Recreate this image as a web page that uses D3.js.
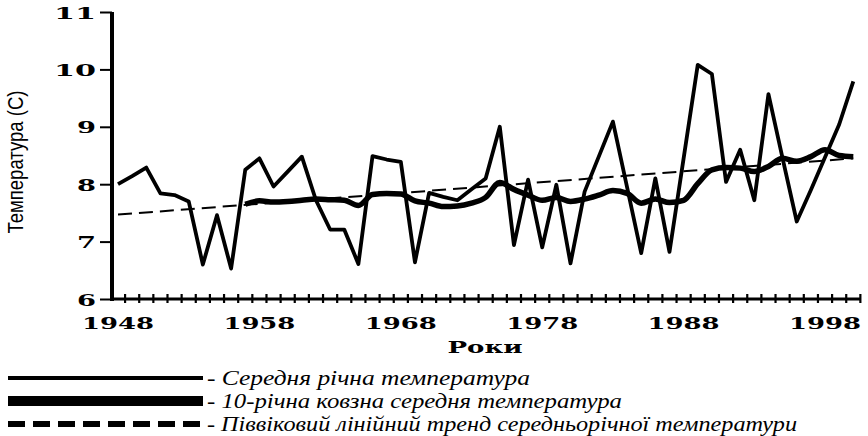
<!DOCTYPE html>
<html>
<head>
<meta charset="utf-8">
<script src="https://cdn.jsdelivr.net/npm/d3@7"></script>
<style>
  body { margin: 0; background: #fff; }
</style>
</head>
<body>
<div class="drawBoard"></div>
<script>
// data
const years = d3.range(1948, 2001);
const annualTemp = [8.00, 8.14, 8.29, 7.84, 7.81, 7.70, 6.60, 7.46, 6.53, 8.25,
                    8.45, 7.96, 8.22, 8.48, 7.72, 7.21, 7.21, 6.61, 8.49, 8.43,
                    8.39, 6.64, 7.85, 7.78, 7.72, 7.91, 8.10, 9.00, 6.94, 8.08,
                    6.90, 7.99, 6.62, 7.87, 8.48, 9.09, 7.95, 6.80, 8.10, 6.82,
                    8.45, 10.08, 9.92, 8.04, 8.60, 7.72, 9.57, 8.45, 7.35, 7.90,
                    8.47, 9.04, 9.79];
const maYears = d3.range(1957, 2001);
const movingAvg = [7.65, 7.71, 7.69, 7.70, 7.72, 7.74, 7.73, 7.72, 7.63, 7.82,
                   7.84, 7.83, 7.71, 7.67, 7.61, 7.62, 7.67, 7.77, 8.03, 7.91,
                   7.81, 7.72, 7.77, 7.70, 7.74, 7.81, 7.89, 7.84, 7.67, 7.74,
                   7.68, 7.72, 8.01, 8.25, 8.29, 8.28, 8.22, 8.31, 8.45, 8.40,
                   8.48, 8.60, 8.50, 8.48];
const trendYears = [1948, 2000];
const trendTemp = [7.47, 8.45];
const yTicks = [6, 7, 8, 9, 10, 11];
const xLabels = [1948, 1958, 1968, 1978, 1988, 1998];
const legendLabels = ['- Середня річна температура',
                      '- 10-річна ковзна середня температура',
                      '- Піввіковий лінійний тренд середньорічної температури'];

const svg = d3.select('.drawBoard').append('svg')
  .attr('width', 868)
  .attr('height', 436);

const x = d3.scaleLinear().domain([1948, 2000]).range([118, 853.3]);
const y = d3.scaleLinear().domain([6, 11]).range([299, 12]);

// y axis
const yAxis = svg.append('g')
  .attr('transform', 'translate(112,0)')
  .call(d3.axisLeft(y).tickValues(yTicks).tickSize(12).tickFormat(d3.format('d')));
yAxis.select('.domain').remove();
yAxis.selectAll('.tick line').attr('stroke', '#000').attr('stroke-width', 2);
yAxis.selectAll('.tick text')
  .attr('x', -16)
  .attr('dy', '0.36em')
  .attr('font-family', 'DejaVu Serif')
  .attr('font-weight', 'bold')
  .attr('font-size', 17)
  .attr('fill', '#000')
  .attr('textLength', d => d >= 10 ? 42 : 19)
  .attr('lengthAdjust', 'spacingAndGlyphs');

svg.append('line')
  .attr('x1', 112).attr('x2', 112)
  .attr('y1', y(11)).attr('y2', y(6) + 2)
  .attr('stroke', '#000').attr('stroke-width', 4);

// x axis, ticks sit between years
svg.append('line')
  .attr('x1', 110).attr('x2', x(2000.5))
  .attr('y1', y(6)).attr('y2', y(6))
  .attr('stroke', '#000').attr('stroke-width', 3);

svg.selectAll('.yearTick')
  .data(years)
  .enter().append('line')
  .attr('class', 'yearTick')
  .attr('x1', d => x(d + 0.5))
  .attr('x2', d => x(d + 0.5))
  .attr('y1', y(6) - 5)
  .attr('y2', y(6) + 4)
  .attr('stroke', '#000')
  .attr('stroke-width', 2.2);

svg.selectAll('.yearLabel')
  .data(xLabels)
  .enter().append('text')
  .attr('class', 'yearLabel')
  .attr('x', d => x(d))
  .attr('y', 329)
  .attr('text-anchor', 'middle')
  .attr('font-family', 'DejaVu Serif')
  .attr('font-weight', 'bold')
  .attr('font-size', 17)
  .attr('textLength', 72)
  .attr('lengthAdjust', 'spacingAndGlyphs')
  .text(d => d);

// axis titles
svg.append('text')
  .attr('transform', 'translate(23,162) rotate(-90)')
  .attr('text-anchor', 'middle')
  .attr('font-family', 'Liberation Sans')
  .attr('font-size', 22)
  .attr('textLength', 143)
  .attr('lengthAdjust', 'spacingAndGlyphs')
  .text('Температура (С)');

svg.append('text')
  .attr('x', 485)
  .attr('y', 353)
  .attr('text-anchor', 'middle')
  .attr('font-family', 'DejaVu Serif')
  .attr('font-weight', 'bold')
  .attr('font-size', 16)
  .attr('textLength', 75)
  .attr('lengthAdjust', 'spacingAndGlyphs')
  .text('Роки');

// lines
const line = d3.line().x(d => x(d[0])).y(d => y(d[1]));

svg.append('path')
  .datum(d3.zip(trendYears, trendTemp))
  .attr('d', line)
  .attr('fill', 'none')
  .attr('stroke', '#000')
  .attr('stroke-width', 2)
  .attr('stroke-dasharray', '14,7');

svg.append('path')
  .datum(d3.zip(years, annualTemp))
  .attr('d', line)
  .attr('fill', 'none')
  .attr('stroke', '#000')
  .attr('stroke-width', 3.8)
  .attr('stroke-linejoin', 'round');

svg.append('path')
  .datum(d3.zip(maYears, movingAvg))
  .attr('d', line.curve(d3.curveMonotoneX))
  .attr('fill', 'none')
  .attr('stroke', '#000')
  .attr('stroke-width', 5.5)
  .attr('stroke-linejoin', 'round');

// legend
const legendY = [378, 401, 424];
const legendWidth = [4, 10, 6];
const legendTextW = [323, 415, 590];

legendLabels.forEach((t, i) => {
  svg.append('line')
    .attr('x1', 8).attr('x2', 203)
    .attr('y1', legendY[i]).attr('y2', legendY[i])
    .attr('stroke', '#000')
    .attr('stroke-width', legendWidth[i])
    .attr('stroke-dasharray', i == 2 ? '17,8' : null);
  svg.append('text')
    .attr('x', 207)
    .attr('y', legendY[i] + 7)
    .attr('font-family', 'Liberation Serif')
    .attr('font-style', 'italic')
    .attr('font-size', 22)
    .attr('textLength', legendTextW[i])
    .attr('lengthAdjust', 'spacingAndGlyphs')
    .text(t);
});
</script>
</body>
</html>
